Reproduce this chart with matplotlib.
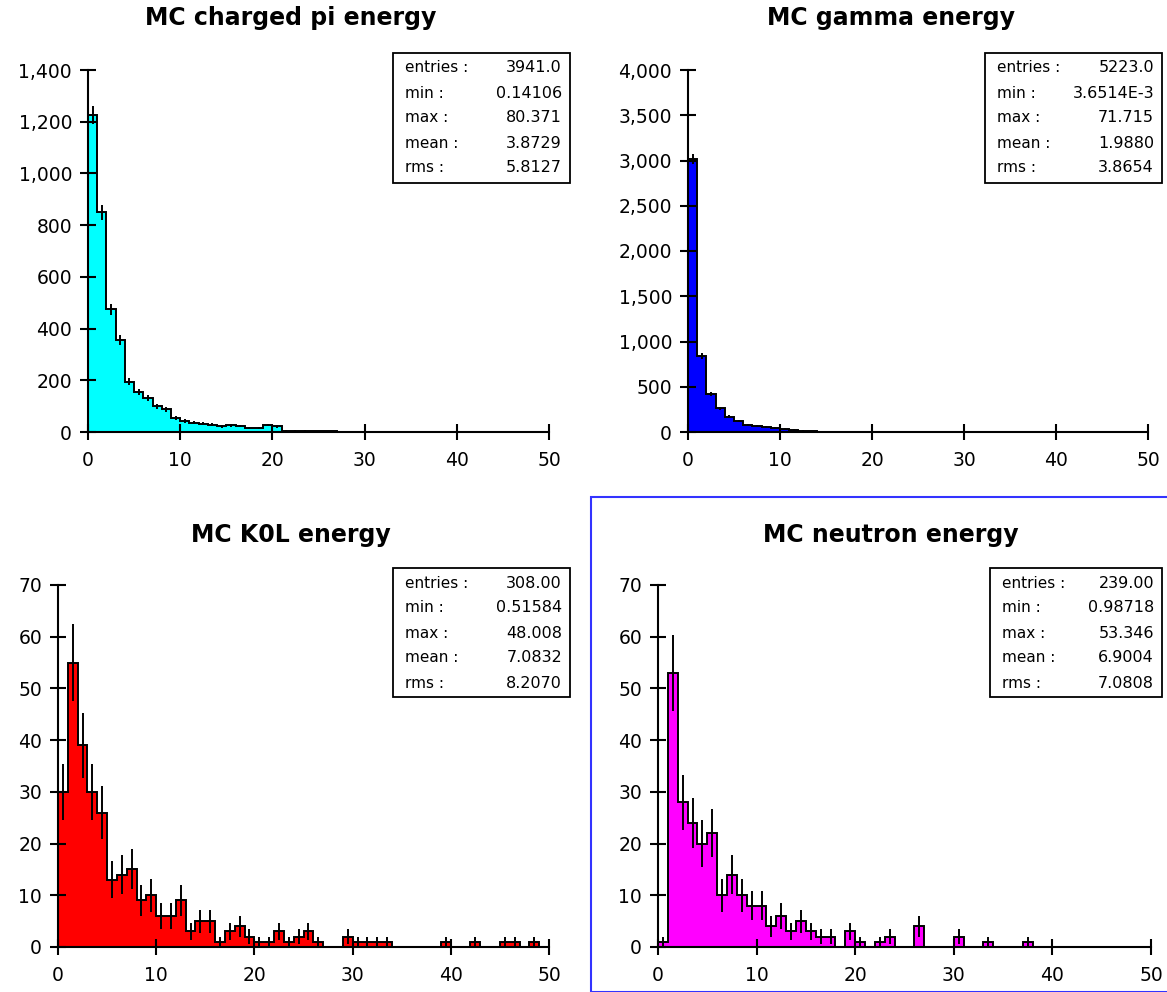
import numpy as np
import matplotlib.pyplot as plt
from matplotlib.patches import Rectangle
from matplotlib.ticker import FuncFormatter

# bin contents, 50 bins of width 1 from 0 to 50
pi_counts = [1225, 850, 475, 355, 195, 155, 130, 100, 88, 55,
             42, 36, 32, 28, 22, 26, 23, 17, 17, 27,
             22, 5, 4, 4, 3, 2, 2, 1, 1, 1,
             1, 0, 1, 0, 0, 1, 1, 0, 0, 0,
             0, 0, 0, 0, 0, 1, 1, 1, 0, 1]
gamma_counts = [3020, 840, 420, 260, 170, 120, 80, 65, 55, 45,
                35, 25, 15, 8, 5, 4, 3, 3, 2, 2,
                2, 1, 1, 1, 1, 1, 0, 1, 1, 1,
                1, 0, 0, 1, 1, 0, 1, 0, 1, 1,
                0, 1, 0, 0, 1, 1, 1, 0, 0, 0]
k0l_counts = [30, 55, 39, 30, 26, 13, 14, 15, 9, 10,
              6, 6, 9, 3, 5, 5, 1, 3, 4, 2,
              1, 1, 3, 1, 2, 3, 1, 0, 0, 2,
              1, 1, 1, 1, 0, 0, 0, 0, 0, 1,
              0, 0, 1, 0, 0, 1, 1, 0, 1, 0]
neutron_counts = [1, 53, 28, 24, 20, 22, 10, 14, 10, 8,
                  8, 4, 6, 3, 5, 3, 2, 2, 0, 3,
                  1, 0, 1, 2, 0, 0, 4, 0, 0, 0,
                  2, 0, 0, 1, 0, 0, 0, 1, 0, 0,
                  0, 0, 0, 0, 0, 0, 0, 0, 0, 0]

titles = ["MC charged pi energy", "MC gamma energy", "MC K0L energy", "MC neutron energy"]
colors = ["#00ffff", "#0000ff", "#ff0000", "#ff00ff"]
stat_names = ["entries :", "min :", "max :", "mean :", "rms :"]
pi_stats = ["3941.0", "0.14106", "80.371", "3.8729", "5.8127"]
gamma_stats = ["5223.0", "3.6514E-3", "71.715", "1.9880", "3.8654"]
k0l_stats = ["308.00", "0.51584", "48.008", "7.0832", "8.2070"]
neutron_stats = ["239.00", "0.98718", "53.346", "6.9004", "7.0808"]
y_tops = [1400, 4000, 70, 70]
y_steps = [200, 500, 10, 10]
x_ticks = [0, 10, 20, 30, 40, 50]

W, H = 1167, 992
fig = plt.figure(figsize=(W / 100, H / 100), dpi=100)
plt.rcParams['font.family'] = 'DejaVu Sans'


def px_axes(x0, x1, y0, y1):
    # x0,x1: pixel of data 0 and 50; y0: pixel of y=0, y1: pixel of y top
    return fig.add_axes([x0 / W, (H - y0) / H, (x1 - x0) / W, (y0 - y1) / H])


def stats_box(x0, x1, y0, y1, values):
    fig.patches.append(Rectangle((x0 / W, 1 - y1 / H), (x1 - x0) / W, (y1 - y0) / H,
                                 transform=fig.transFigure, fill=False,
                                 edgecolor='black', lw=1.3))
    for i, (name, val) in enumerate(zip(stat_names, values)):
        yy = 1 - (y0 + 15 + 25 * i) / H
        fig.text((x0 + 12) / W, yy, name, fontsize=11, va='center', ha='left')
        fig.text((x1 - 8) / W, yy, val, fontsize=11.5, va='center', ha='right')


def panel(ax, counts, color, ytop, ystep):
    counts = np.array(counts, dtype=float)
    edges = np.arange(len(counts) + 1)
    centers = edges[:-1] + 0.5
    ax.stairs(counts, edges, fill=True, color=color)
    ax.stairs(counts, edges, color='black', lw=1.4, baseline=0)
    nz = counts > 0
    err = np.sqrt(counts[nz])
    ax.vlines(centers[nz], counts[nz] - err, counts[nz] + err, color='black', lw=1.4)
    ax.set_xlim(0, 50)
    ax.set_ylim(0, ytop)
    ax.set_xticks(x_ticks)
    ax.set_yticks(np.arange(0, ytop + 1, ystep))
    ax.yaxis.set_major_formatter(FuncFormatter(lambda v, p: f"{int(v):,}"))
    for s in ['top', 'right']:
        ax.spines[s].set_visible(False)
    for s in ['left', 'bottom']:
        ax.spines[s].set_linewidth(1.5)
    ax.tick_params(direction='inout', length=11, width=1.5, labelsize=13.5)
    ax.tick_params(axis='x', pad=8)
    ax.tick_params(axis='y', pad=6)
    ax.patch.set_alpha(0)


ax1 = px_axes(88, 549, 432, 70)
panel(ax1, pi_counts, colors[0], y_tops[0], y_steps[0])
ax2 = px_axes(688, 1148, 432, 70)
panel(ax2, gamma_counts, colors[1], y_tops[1], y_steps[1])
ax3 = px_axes(58, 549, 947, 585)
panel(ax3, k0l_counts, colors[2], y_tops[2], y_steps[2])
ax4 = px_axes(658, 1151, 947, 585)
panel(ax4, neutron_counts, colors[3], y_tops[3], y_steps[3])

for t, (cx, cy) in zip(titles, [(291, 18), (891, 18), (291, 535), (891, 535)]):
    fig.text(cx / W, 1 - cy / H, t, fontsize=17, fontweight='bold', ha='center', va='center')

stats_box(393, 570, 53, 183, pi_stats)
stats_box(985, 1162, 53, 183, gamma_stats)
stats_box(393, 570, 568, 697, k0l_stats)
stats_box(990, 1162, 568, 697, neutron_stats)

# blue selection frame around the last panel
fig.patches.append(Rectangle((591 / W, 0), (W - 591) / W + 0.01, (H - 497) / H,
                             transform=fig.transFigure, fill=False,
                             edgecolor='#3333ff', lw=1.5))

fig.savefig("out.png", dpi=100)
